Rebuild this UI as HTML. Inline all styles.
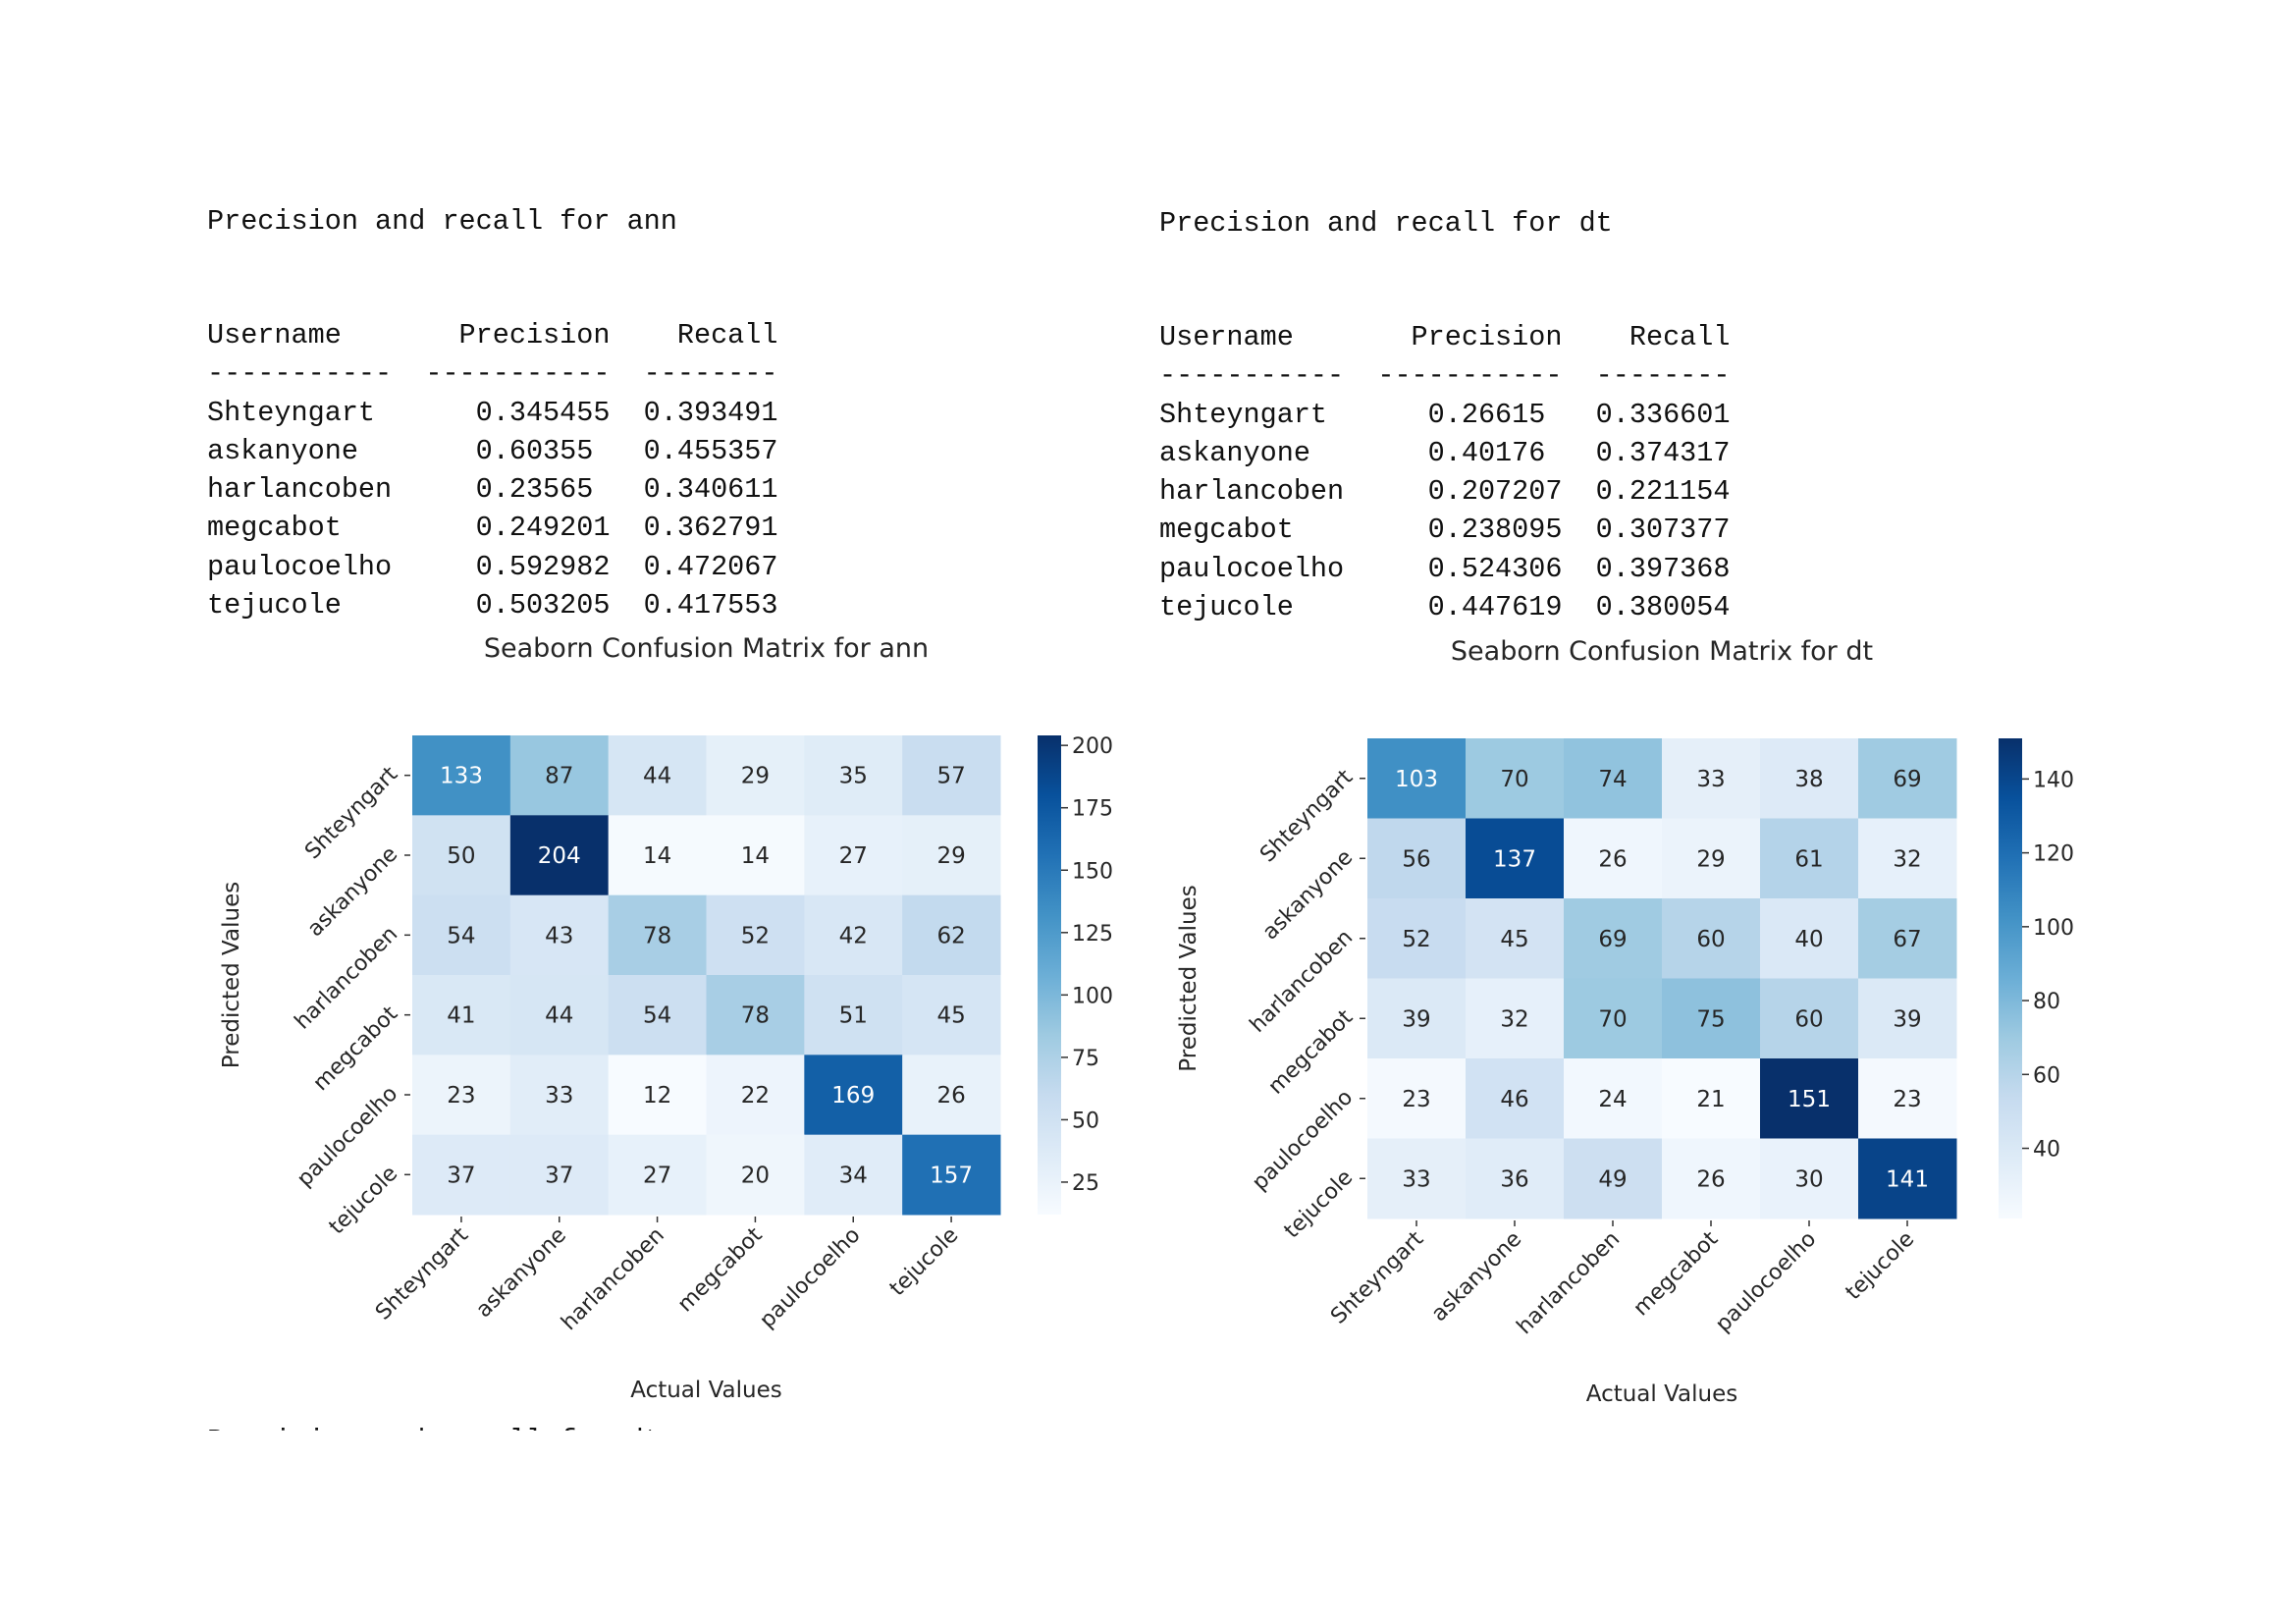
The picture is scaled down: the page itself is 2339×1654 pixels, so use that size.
<!DOCTYPE html>
<html><head><meta charset="utf-8">
<style>
body{margin:0;background:#fff;width:2339px;height:1654px;overflow:hidden;position:relative}
pre{position:absolute;margin:0;font-family:"Liberation Mono",monospace;font-size:28.5px;line-height:39.3px;color:#111}
svg{position:absolute;left:0;top:0}
text{font-family:"DejaVu Sans","Liberation Sans",sans-serif}
</style></head>
<body>
<pre style="left:211px;top:206px">Precision and recall for ann</pre>
<pre style="left:211px;top:322px">Username       Precision    Recall
-----------  -----------  --------
Shteyngart      0.345455  0.393491
askanyone       0.60355   0.455357
harlancoben     0.23565   0.340611
megcabot        0.249201  0.362791
paulocoelho     0.592982  0.472067
tejucole        0.503205  0.417553</pre>
<pre style="left:1181px;top:208px">Precision and recall for dt</pre>
<pre style="left:1181px;top:324px">Username       Precision    Recall
-----------  -----------  --------
Shteyngart      0.26615   0.336601
askanyone       0.40176   0.374317
harlancoben     0.207207  0.221154
megcabot        0.238095  0.307377
paulocoelho     0.524306  0.397368
tejucole        0.447619  0.380054</pre>
<div style="position:absolute;left:211px;top:1448px;height:9px;overflow:hidden"><pre style="position:static">Precision and recall for dt</pre></div>
<svg id="chart" width="2339" height="1654"></svg>
<script>
const labels = ["Shteyngart","askanyone","harlancoben","megcabot","paulocoelho","tejucole"];
const annValues = [
 [133,87,44,29,35,57],
 [50,204,14,14,27,29],
 [54,43,78,52,42,62],
 [41,44,54,78,51,45],
 [23,33,12,22,169,26],
 [37,37,27,20,34,157]];
const dtValues = [
 [103,70,74,33,38,69],
 [56,137,26,29,61,32],
 [52,45,69,60,40,67],
 [39,32,70,75,60,39],
 [23,46,24,21,151,23],
 [33,36,49,26,30,141]];
const annTicks = [25,50,75,100,125,150,175,200];
const dtTicks = [40,60,80,100,120,140];

const NS="http://www.w3.org/2000/svg";
const svg=document.getElementById('chart');
const stops=["#f7fbff","#deebf7","#c6dbef","#9ecae1","#6baed6","#4292c6","#2171b5","#08519c","#08306b"];
function hex(h){return [1,3,5].map(i=>parseInt(h.substr(i,2),16));}
function cmap(t){t=Math.max(0,Math.min(1,t));const p=t*8,i=Math.min(7,Math.floor(p)),f=p-i;const a=hex(stops[i]),b=hex(stops[i+1]);const c=a.map((v,k)=>v+(b[k]-v)*f);return c;}
function lum(c){const l=c.map(v=>{v/=255;return v<=0.03928?v/12.92:Math.pow((v+0.055)/1.055,2.4)});return 0.2126*l[0]+0.7152*l[1]+0.0722*l[2];}
function el(tag,attrs,parent){const e=document.createElementNS(NS,tag);for(const k in attrs)e.setAttribute(k,attrs[k]);(parent||svg).appendChild(e);return e;}

function heatmap(cfg){
  const g=el('g',{});
  
  
  const vals=cfg.values;const flat=vals.flat();const vmin=Math.min(...flat),vmax=Math.max(...flat);
  const n=labels.length;const cw=(cfg.x1-cfg.x0)/n,ch=(cfg.y1-cfg.y0)/n;
  const xs=j=>cfg.x0+j*cw, ys=i=>cfg.y0+i*ch;
  for(let i=0;i<n;i++)for(let j=0;j<n;j++){
    const c=cmap((vals[i][j]-vmin)/(vmax-vmin));
    const r=el('rect',{x:xs(j),y:ys(i),width:cw+0.5,height:ch+0.5,fill:`rgb(${c.map(Math.round).join(',')})`},g);
    
    
    const t=el('text',{x:xs(j)+cw/2,y:ys(i)+ch/2+8,'text-anchor':'middle','font-size':23,fill:lum(c)<0.408?'#fff':'#262626'},g);
    t.textContent=vals[i][j];
    
    
  }
  for(let k=0;k<n;k++){
    const cy=ys(k)+ch/2;
    el('line',{x1:cfg.x0-8,x2:cfg.x0-2,y1:cy,y2:cy,stroke:'#333','stroke-width':1.5},g);
    const yl=el('text',{x:cfg.x0-14,y:cy,'text-anchor':'end','font-size':22,fill:'#262626',transform:`rotate(-45 ${cfg.x0-14} ${cy})`},g);
    yl.textContent=labels[k];
    
    
    const cx=xs(k)+cw/2;
    el('line',{x1:cx,x2:cx,y1:cfg.y1+2,y2:cfg.y1+8,stroke:'#333','stroke-width':1.5},g);
    const xl=el('text',{x:cx+8,y:cfg.y1+22,'text-anchor':'end','font-size':22,fill:'#262626',transform:`rotate(-45 ${cx+8} ${cfg.y1+22})`},g);
    xl.textContent=labels[k];
    
    
  }
  const defs=el('defs',{},g);
  const lg=el('linearGradient',{id:cfg.name+'-grad',x1:0,y1:1,x2:0,y2:0},defs);
  stops.forEach((s,i)=>el('stop',{offset:i/8,'stop-color':s},lg));
  const cb=el('rect',{x:cfg.cbx,y:cfg.y0,width:24,height:cfg.y1-cfg.y0,fill:`url(#${cfg.name}-grad)`},g);
  
  
  const cyv=v=>cfg.y1-(v-vmin)/(vmax-vmin)*(cfg.y1-cfg.y0);
  cfg.ticks.forEach(v=>{
    const y=cyv(v);
    el('line',{x1:cfg.cbx+24,x2:cfg.cbx+31,y1:y,y2:y,stroke:'#333','stroke-width':1.5},g);
    const t=el('text',{x:cfg.cbx+35,y:y+8,'font-size':22,fill:'#262626'},g);
    t.textContent=v;
    
    
  });
  const mid=(cfg.x0+cfg.x1)/2;
  const ti=el('text',{x:mid,y:cfg.y0-80,'text-anchor':'middle','font-size':27,fill:'#262626'},g);
  ti.textContent=cfg.title;
  
  
  const xa=el('text',{x:mid,y:cfg.y1+186,'text-anchor':'middle','font-size':23,fill:'#262626'},g);
  xa.textContent='Actual Values';
  
  
  const ay=(cfg.y0+cfg.y1)/2;
  const ya=el('text',{x:cfg.yax,y:ay,'text-anchor':'middle','font-size':23,fill:'#262626',transform:`rotate(-90 ${cfg.yax} ${ay})`},g);
  ya.textContent='Predicted Values';
  
  
}
heatmap({name:'ann-heatmap',values:annValues,ticks:annTicks,x0:420,x1:1019,y0:749,y1:1237,cbx:1057,title:'Seaborn Confusion Matrix for ann',yax:243});
heatmap({name:'dt-heatmap',values:dtValues,ticks:dtTicks,x0:1393,x1:1993,y0:752,y1:1241,cbx:2036,title:'Seaborn Confusion Matrix for dt',yax:1218});
</script>
</body></html>
